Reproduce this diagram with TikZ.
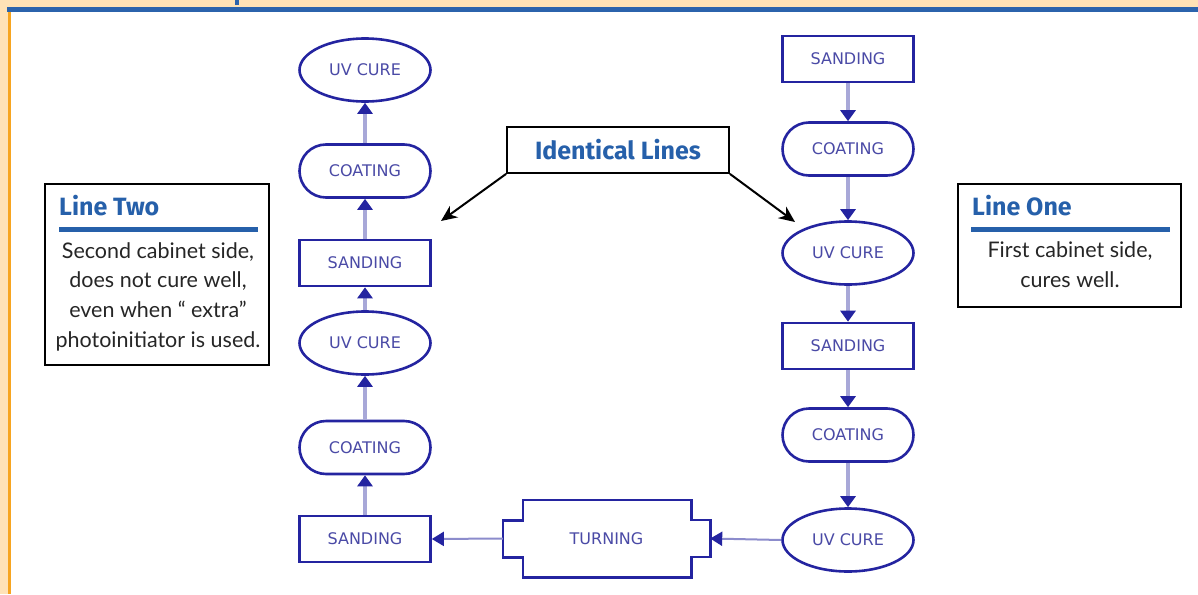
\documentclass[tikz,border=0pt]{standalone}
\usepackage{fontspec}
\setmainfont{Lato}
\newfontfamily\headfont{Fira Sans}
\newfontfamily\flowfont{DejaVu Sans}
\usetikzlibrary{shapes.geometric,shapes.misc,arrows.meta}

\definecolor{peach}{HTML}{FFE2B6}
\definecolor{bandblue}{HTML}{2B63AC}
\definecolor{edgeorange}{HTML}{F7A520}
\definecolor{flowblue}{HTML}{2424A0}
\definecolor{flowtext}{HTML}{4A4AA6}
\definecolor{linkblue}{HTML}{A8A8D8}
\definecolor{hlinkblue}{HTML}{8C8CCC}
\definecolor{headblue}{HTML}{2660AA}
\definecolor{bodygray}{HTML}{262626}

\tikzset{
  flow/.style={draw=flowblue, line width=2.6pt, fill=white, text=flowtext,
    font=\flowfont\fontsize{16}{18}\selectfont, inner sep=0pt},
  cure/.style={flow, ellipse, minimum width=131pt, minimum height=63pt},
  coat/.style={flow, rounded rectangle, minimum width=131pt, minimum height=53pt},
  sand/.style={flow, rectangle, minimum width=131pt, minimum height=46pt},
  link/.style={draw=linkblue, line width=3.5pt,
    -{Triangle[length=11pt,width=15pt,color=flowblue]}},
  hlink/.style={draw=hlinkblue, line width=2pt,
    -{Triangle[length=12pt,width=14pt,color=flowblue]}},
  callout/.style={draw=black, line width=1.8pt, fill=white, inner sep=0pt},
  head/.style={text=headblue, font=\headfont\bfseries\fontsize{25}{28}\selectfont, inner sep=0pt},
  body/.style={text=bodygray, align=center, inner sep=0pt,
    font=\fontsize{21.5}{29.7}\selectfont},
  pointer/.style={draw=black, line width=2pt,
    -{Stealth[length=16pt,width=14pt,inset=5pt]}}
}

\begin{document}
\begin{tikzpicture}[x=1pt,y=-1pt]
\useasboundingbox (0,0) rectangle (1198,594);

% page frame
\fill[peach] (0,0) rectangle (1198,594);
\fill[white] (10.7,12) rectangle (1198,594);
\fill[bandblue] (7.3,6.7) rectangle (1198,12);
\fill[edgeorange] (8,12) rectangle (10.7,594);
\fill[bandblue] (235,0) rectangle (238.5,5);

% Line Two (left column, flows upward)
\node[cure] (l1) at (365,70)    {UV CURE};
\node[coat] (l2) at (365,171)   {COATING};
\node[sand] (l3) at (365,263)   {SANDING};
\node[cure] (l4) at (365,343)   {UV CURE};
\node[coat] (l5) at (365,447.5) {COATING};
\node[sand] (l6) at (365,539)   {SANDING};

% Line One (right column, flows downward)
\node[sand] (r1) at (848,59)  {SANDING};
\node[coat] (r2) at (848,149) {COATING};
\node[cure] (r3) at (848,253) {UV CURE};
\node[sand] (r4) at (848,346) {SANDING};
\node[coat] (r5) at (848,435) {COATING};
\node[cure] (r6) at (848,540) {UV CURE};

% turning station
\node[text=flowtext, font=\flowfont\fontsize{16}{18}\selectfont,
      minimum width=207pt, minimum height=77pt, inner sep=0pt]
  (turn) at (606.5,538.5) {TURNING};
\draw[draw=flowblue, line width=2.6pt, line join=miter]
  ([xshift=20pt]turn.north west) -- ([xshift=-19pt]turn.north east)
  -- ++(0,20) -- ++(19,0) -- ++(0,37) -- ++(-19,0)
  -- ([xshift=-19pt]turn.south east) -- ([xshift=20pt]turn.south west)
  -- ++(0,-20) -- ++(-20,0) -- ++(0,-37) -- ++(20,0) -- cycle;

% connectors
\draw[link] (l2.north) -- (l1.south);
\draw[link] (l3.north) -- (l2.south);
\draw[link] (l4.north) -- (l3.south);
\draw[link] (l5.north) -- (l4.south);
\draw[link] (l6.north) -- (l5.south);

\draw[link] (r1.south) -- (r2.north);
\draw[link] (r2.south) -- (r3.north);
\draw[link] (r3.south) -- (r4.north);
\draw[link] (r4.south) -- (r5.north);
\draw[link] (r5.south) -- (r6.north);

\draw[hlink] (r6.west) -- (turn.east);
\draw[hlink] (turn.west) -- (l6.east);

% Line Two note
\node[callout, minimum width=224pt, minimum height=181pt] (two) at (157,274.5) {};
\node[head, anchor=base west] (twohead) at (59,215) {Line Two};
\fill[headblue] (59,227) rectangle (258,232);
\node[body] (twobody) at (158,296.5)
  {Second cabinet side,\\does not cure well,\\even when “ extra”\\photoinitiator is used.};

% Line One note
\node[callout, minimum width=223pt, minimum height=123pt] (one) at (1069.5,245.5) {};
\node[head, anchor=base west] (onehead) at (972,215) {Line One};
\fill[headblue] (971,227) rectangle (1170,232);
\node[body] (onebody) at (1070,265) {First cabinet side,\\cures well.};

% shared label
\node[callout, head, minimum width=222pt, minimum height=46pt] (same) at (618,150) {Identical Lines};
\coordinate (tipL) at (441,221);
\coordinate (tipR) at (795,222);
\draw[pointer] (same.south west) -- (tipL);
\draw[pointer] (same.south east) -- (tipR);
\end{tikzpicture}
\end{document}
